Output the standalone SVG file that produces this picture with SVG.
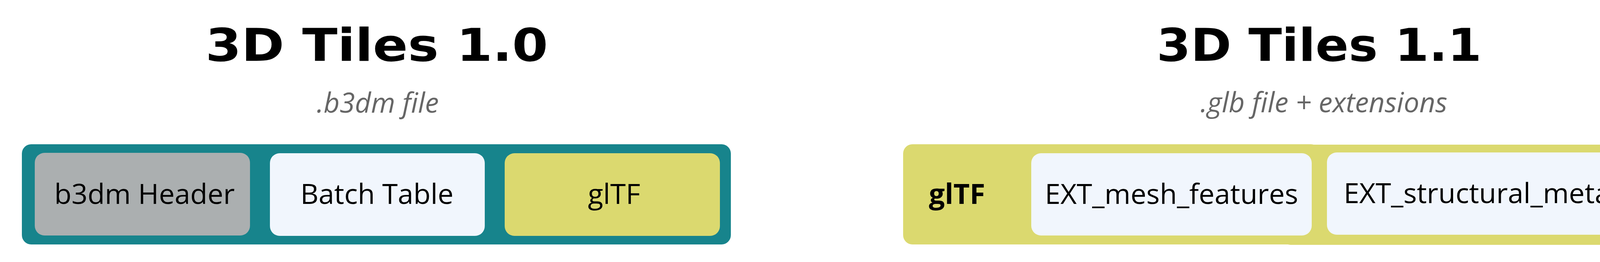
<svg xmlns="http://www.w3.org/2000/svg" width="4440" height="672" viewBox="0 0 4440 672">
<style>
.bg{fill:#ffffff}
.title{font-family:"DejaVu Sans","Liberation Sans",sans-serif;font-weight:bold;font-size:115px;fill:#000}
.sub{font-family:"Open Sans","Liberation Sans",sans-serif;font-style:italic;font-size:71px;fill:#666666;text-anchor:middle}
.lbl{font-family:"Open Sans","Liberation Sans",sans-serif;font-size:72px;fill:#000;text-anchor:middle}
.bold{font-weight:bold}
.teal{fill:#17848C}
.gray{fill:#ABAFB0}
.light{fill:#F1F6FD}
.yellow{fill:#DBD96F}
</style>
<rect class="bg" x="0" y="0" width="4440" height="672"/>
<g id="title-10">
<text class="title" x="526" y="156" textLength="877" lengthAdjust="spacingAndGlyphs">3D Tiles 1.0</text>
<text class="sub" x="967" y="289">.b3dm file</text>
</g>
<g id="b3dm-container">
<rect class="teal" x="56" y="370" width="1815" height="257" rx="24" ry="24"/>
</g>
<g id="b3dm-header">
<rect class="gray" x="89" y="392" width="551" height="212" rx="25" ry="25"/>
<text class="lbl" x="370" y="523">b3dm Header</text>
</g>
<g id="batch-table">
<rect class="light" x="691" y="393" width="550" height="212" rx="25" ry="25"/>
<text class="lbl" x="965" y="523">Batch Table</text>
</g>
<g id="gltf-10">
<rect class="yellow" x="1292" y="393" width="551" height="212" rx="25" ry="25"/>
<text class="lbl" x="1572" y="523">glTF</text>
</g>
<g id="title-11">
<text class="title" x="2961" y="156" textLength="832" lengthAdjust="spacingAndGlyphs">3D Tiles 1.1</text>
<text class="sub" x="3389" y="288">.glb file + extensions</text>
</g>
<g id="gltf-container">
<rect class="yellow" x="2312" y="370" width="1068" height="257" rx="24" ry="24"/>
<rect class="yellow" x="3280" y="371" width="1072" height="257" rx="24" ry="24"/>
<text class="lbl bold" x="2450" y="523">glTF</text>
</g>
<g id="ext-mesh-features">
<rect class="light" x="2640" y="393" width="718" height="211" rx="25" ry="25"/>
<text class="lbl" x="2999" y="523">EXT_mesh_features</text>
</g>
<g id="ext-structural-metadata">
<rect class="light" x="3397" y="391" width="919" height="211" rx="25" ry="25"/>
<text class="lbl" x="3856" y="521">EXT_structural_metadata</text>
</g>
<g id="connectors"></g>
</svg>
